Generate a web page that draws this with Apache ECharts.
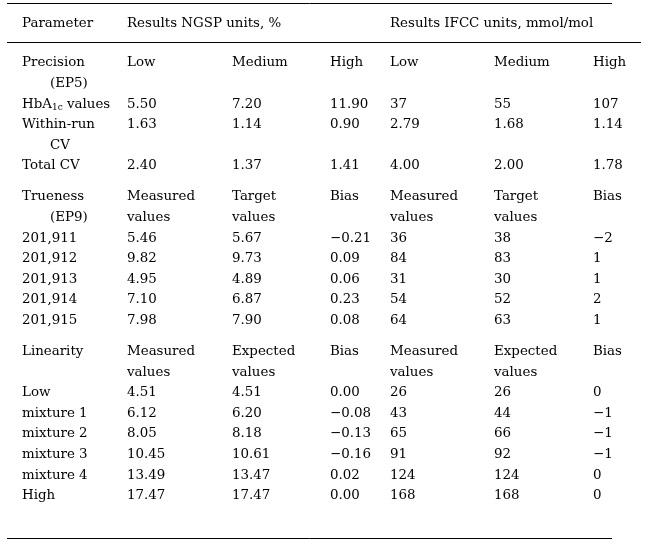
<!DOCTYPE html>
<html>
<head>
<meta charset="utf-8">
<script src="https://cdn.jsdelivr.net/npm/echarts@6/dist/echarts.min.js"></script>
<style>
html,body{margin:0;padding:0;background:#fff;}
#chart{width:650px;height:547px;}
</style>
</head>
<body>
<div id="chart"></div>
<script>
// ---------------- DATA ----------------
const headerRow = ["Parameter", "Results NGSP units, %", "", "", "Results IFCC units, mmol/mol", "", ""];

const precisionHeader = ["Precision\n(EP5)", "Low", "Medium", "High", "Low", "Medium", "High"];
const precisionLabels = ["HbA{sub|1c} values", "Within-run\nCV", "Total CV"];
const precisionNGSP = [["5.50", "7.20", "11.90"], ["1.63", "1.14", "0.90"], ["2.40", "1.37", "1.41"]];
const precisionIFCC = [["37", "55", "107"], ["2.79", "1.68", "1.14"], ["4.00", "2.00", "1.78"]];

const truenessHeader = ["Trueness\n(EP9)", "Measured\nvalues", "Target\nvalues", "Bias", "Measured\nvalues", "Target\nvalues", "Bias"];
const truenessLots = ["201,911", "201,912", "201,913", "201,914", "201,915"];
const truenessNGSP = [[5.46, 5.67, -0.21], [9.82, 9.73, 0.09], [4.95, 4.89, 0.06], [7.10, 6.87, 0.23], [7.98, 7.90, 0.08]];
const truenessIFCC = [[36, 38, -2], [84, 83, 1], [31, 30, 1], [54, 52, 2], [64, 63, 1]];

const linearityHeader = ["Linearity", "Measured\nvalues", "Expected\nvalues", "Bias", "Measured\nvalues", "Expected\nvalues", "Bias"];
const linearityLabels = ["Low", "mixture 1", "mixture 2", "mixture 3", "mixture 4", "High"];
const linearityNGSP = [[4.51, 4.51, 0.00], [6.12, 6.20, -0.08], [8.05, 8.18, -0.13], [10.45, 10.61, -0.16], [13.49, 13.47, 0.02], [17.47, 17.47, 0.00]];
const linearityIFCC = [[26, 26, 0], [43, 44, -1], [65, 66, -1], [91, 92, -1], [124, 124, 0], [168, 168, 0]];

// ---------------- LAYOUT (style, not data) ----------------
const colX = [22, 127, 232, 330, 390, 494, 593];
const contIndent = 28;
const headerY = 24;
const bodyStartY = 63;
const pitch = 20.6;
const sectionGap = 10.4;
const rules = [[7, 612, 3], [7, 641, 42], [7, 612, 538]];

function fmt(v, d) {
  if (typeof v === 'string') return v;
  const s = Math.abs(v).toFixed(d);
  return (v < 0 ? '\u2212' : '') + s;
}

const sections = [
  {
    head: precisionHeader,
    rows: precisionLabels.map((l, i) => [l].concat(precisionNGSP[i], precisionIFCC[i]))
  },
  {
    head: truenessHeader,
    rows: truenessLots.map((l, i) => [l].concat(truenessNGSP[i].map(v => fmt(v, 2)), truenessIFCC[i].map(v => fmt(v, 0))))
  },
  {
    head: linearityHeader,
    rows: linearityLabels.map((l, i) => [l].concat(linearityNGSP[i].map(v => fmt(v, 2)), linearityIFCC[i].map(v => fmt(v, 0))))
  }
];

const cells = [];
function addRow(row, y) {
  let maxLines = 1;
  row.forEach((txt, c) => {
    if (!txt) return;
    const parts = txt.split('\n');
    maxLines = Math.max(maxLines, parts.length);
    parts.forEach((p, k) => {
      cells.push({ value: [colX[c] + (k > 0 && c === 0 ? contIndent : 0), y + k * pitch], text: p });
    });
  });
  return maxLines;
}
addRow(headerRow, headerY);
let cursor = bodyStartY;
sections.forEach(sec => {
  cursor += addRow(sec.head, cursor) * pitch;
  sec.rows.forEach(r => { cursor += addRow(r, cursor) * pitch; });
  cursor += sectionGap;
});

const chart = echarts.init(document.getElementById('chart'), null, { renderer: 'canvas' });
chart.setOption({
  animation: false,
  backgroundColor: '#ffffff',
  grid: { left: 0, right: 0, top: 0, bottom: 0 },
  xAxis: { type: 'value', min: 0, max: 650, show: false },
  yAxis: { type: 'value', min: 0, max: 547, inverse: true, show: false },
  series: [{
    type: 'scatter',
    symbolSize: 0,
    silent: true,
    itemStyle: { opacity: 1 },
    data: cells,
    label: {
      show: true,
      position: [0, 0],
      align: 'left',
      verticalAlign: 'middle',
      color: '#000000',
      opacity: 1,
      fontFamily: 'DejaVu Serif',
      fontSize: 13.4,
      formatter: p => p.data.text,
      rich: {
        sub: { fontSize: 9, fontFamily: 'DejaVu Serif', color: '#000000', padding: [7, 0, 0, 0] }
      }
    },
    markLine: {
      silent: true,
      symbol: 'none',
      label: { show: false },
      lineStyle: { color: '#000', width: 1, type: 'solid', opacity: 1 },
      data: rules.map(r => [{ coord: [r[0], r[2]] }, { coord: [r[1], r[2]] }])
    }
  }]
});
</script>
</body>
</html>
